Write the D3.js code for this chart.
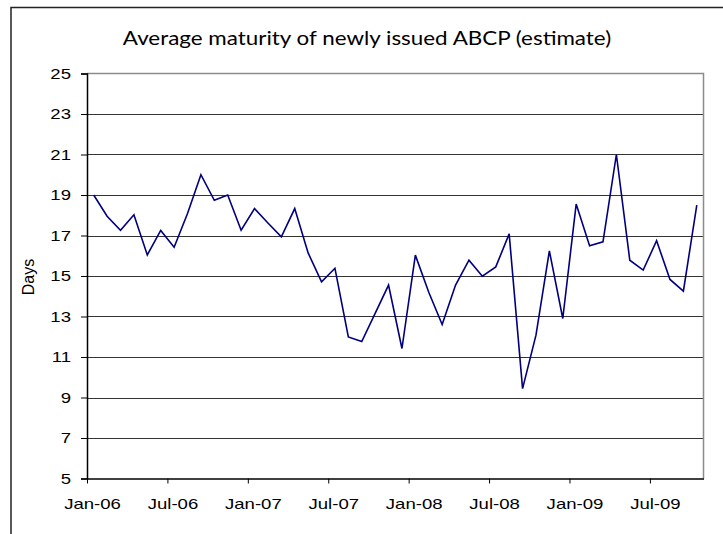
<!DOCTYPE html>
<html>
<head>
<meta charset="utf-8">
<script src="https://cdnjs.cloudflare.com/ajax/libs/d3/7.8.5/d3.min.js"></script>
<style>
    body { margin: 0; background: #fff; }
    svg { display: block; }
    .tick-label { font-family: "Liberation Sans", Arial, sans-serif; font-size: 14.5px; fill: #000; }
    .title { font-family: Lato, "Open Sans", sans-serif; font-size: 20px; fill: #000; }
</style>
</head>
<body>
<div id="chart"></div>
<script>
// Monthly estimates, Jan-06 .. Oct-09
const startMonth = new Date(2006, 0, 1);
const maturityDays = [
    19.0, 17.95, 17.26, 18.02, 16.04, 17.25, 16.42, 18.09, 20.0, 18.74, 19.0, 17.26,
    18.33, 17.62, 16.93, 18.33, 16.14, 14.71, 15.38, 11.99, 11.76, 13.15, 14.55, 11.42,
    16.03, 14.2, 12.6, 14.55, 15.78, 14.99, 15.45, 17.08, 9.44, 12.08, 16.24, 12.9,
    18.55, 16.49, 16.69, 21.0, 15.78, 15.29, 16.74, 14.83, 14.25, 18.5
];
const xTickLabels = ['Jan-06', 'Jul-06', 'Jan-07', 'Jul-07', 'Jan-08', 'Jul-08', 'Jan-09', 'Jul-09'];
const yTicks = [5, 7, 9, 11, 13, 15, 17, 19, 21, 23, 25];

const width = 723;
const height = 534;
const plot = { left: 87, right: 703.5, top: 73.5, bottom: 478.5 };
const stretch = 1.28; // the source picture is stretched sideways

const months = d3.timeMonth.range(startMonth, d3.timeMonth.offset(startMonth, maturityDays.length));
const data = months.map((m, i) => ({ date: m, value: maturityDays[i] }));

const svg = d3.select('#chart')
    .append('svg')
    .attr('width', width)
    .attr('height', height);

// widen text the same way the picture is widened
function widen(sel, factor) {
    sel.each(function() {
        const w = this.getComputedTextLength();
        d3.select(this)
            .attr('textLength', w * factor)
            .attr('lengthAdjust', 'spacingAndGlyphs');
    });
}

// outer chart frame (top + left only visible)
svg.append('path')
    .attr('d', `M11,${height} L11,7.5 L${width},7.5`)
    .attr('fill', 'none')
    .attr('stroke', '#222')
    .attr('stroke-width', 1.5);

// month index scale: each month is one band, points at band centre
const x = d3.scaleLinear()
    .domain([0, maturityDays.length])
    .range([plot.left, plot.right]);

const y = d3.scaleLinear()
    .domain([5, 25])
    .range([plot.bottom, plot.top]);

// gridlines
svg.append('g')
    .selectAll('line')
    .data(yTicks.filter(t => t > 5 && t < 25))
    .enter()
    .append('line')
    .attr('x1', plot.left)
    .attr('x2', plot.right)
    .attr('y1', d => Math.round(y(d)) + 0.5)
    .attr('y2', d => Math.round(y(d)) + 0.5)
    .attr('stroke', '#333')
    .attr('stroke-width', 1);

// plot area border (top and right, grey)
svg.append('path')
    .attr('d', `M${plot.left},${plot.top} L${plot.right},${plot.top} L${plot.right},${plot.bottom}`)
    .attr('fill', 'none')
    .attr('stroke', '#8c8c8c')
    .attr('stroke-width', 1.5);

// y axis
const yAxis = d3.axisLeft(y)
    .tickValues(yTicks)
    .tickSize(6)
    .tickPadding(10);

const gy = svg.append('g')
    .attr('transform', `translate(${plot.left},0)`)
    .call(yAxis);
gy.select('.domain').attr('stroke', '#000').attr('stroke-width', 1.5);
gy.selectAll('.tick line').attr('stroke', '#000');
gy.selectAll('.tick text').attr('class', 'tick-label').attr('fill', null).call(widen, stretch);

// x axis: ticks every 6 months at band starts
const monthTicks = xTickLabels.map((_, i) => i * 6);
const xAxis = d3.axisBottom(x)
    .tickValues(monthTicks)
    .tickFormat((d, i) => xTickLabels[i])
    .tickSize(5)
    .tickSizeOuter(0)
    .tickPadding(15);

const gx = svg.append('g')
    .attr('transform', `translate(0,${plot.bottom})`)
    .call(xAxis);
gx.select('.domain').attr('stroke', '#000').attr('stroke-width', 1.5);
gx.selectAll('.tick line').attr('stroke', '#000');
gx.selectAll('.tick text')
    .attr('class', 'tick-label')
    .attr('fill', null)
    .attr('dx', 5)
    .call(widen, stretch);

// series line
const line = d3.line()
    .x((d, i) => x(i + 0.5))
    .y(d => y(d.value));

svg.append('path')
    .datum(data)
    .attr('d', line)
    .attr('fill', 'none')
    .attr('stroke', '#00007f')
    .attr('stroke-width', 1.6)
    .attr('stroke-linejoin', 'miter');

// title
svg.append('text')
    .attr('class', 'title')
    .attr('x', 367)
    .attr('y', 45)
    .attr('text-anchor', 'middle')
    .text('Average maturity of newly issued ABCP (estimate)')
    .call(widen, 1.12);

// y axis title
svg.append('text')
    .attr('transform', 'translate(34,277) rotate(-90)')
    .attr('text-anchor', 'middle')
    .style('font-family', '"Liberation Sans", Arial, sans-serif')
    .style('font-size', '16px')
    .attr('fill', '#000')
    .text('Days');
</script>
</body>
</html>
